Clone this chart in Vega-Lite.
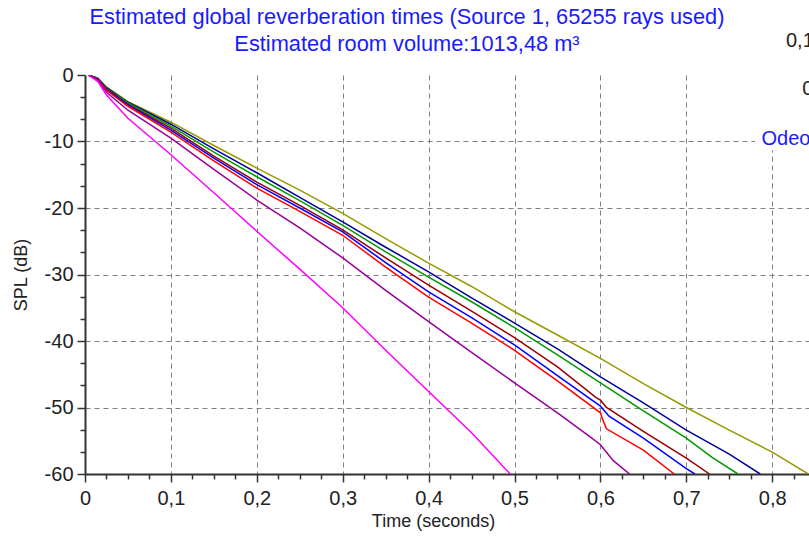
{
  "$schema": "https://vega.github.io/schema/vega-lite/v6.json",
  "width": 724,
  "height": 399,
  "autosize": {"type": "none"},
  "padding": {"left": 85, "top": 75, "right": 0, "bottom": 65},
  "background": "white",
  "config": {"view": {"stroke": null}, "font": "Liberation Sans"},
  "title": {
    "text": ["Estimated global reverberation times (Source 1, 65255 rays used)", "Estimated room volume:1013,48 m³"],
    "color": "#1a1aff",
    "font": "Liberation Sans",
    "fontSize": 21.8,
    "fontWeight": "normal",
    "lineHeight": 27,
    "anchor": "middle",
    "dx": -40,
    "offset": -25
  },
  "datasets": {
    "curves": [
      {"s": "olive", "t": 0.004, "db": 0}, {"s": "olive", "t": 0.015, "db": -0.5}, {"s": "olive", "t": 0.025, "db": -1.8}, {"s": "olive", "t": 0.05, "db": -4.0}, {"s": "olive", "t": 0.1, "db": -7.1}, {"s": "olive", "t": 0.15, "db": -10.6}, {"s": "olive", "t": 0.2, "db": -14.0}, {"s": "olive", "t": 0.25, "db": -17.3}, {"s": "olive", "t": 0.3, "db": -20.8}, {"s": "olive", "t": 0.35, "db": -24.6}, {"s": "olive", "t": 0.4, "db": -28.3}, {"s": "olive", "t": 0.45, "db": -31.8}, {"s": "olive", "t": 0.5, "db": -35.6}, {"s": "olive", "t": 0.55, "db": -39.1}, {"s": "olive", "t": 0.6, "db": -42.6}, {"s": "olive", "t": 0.65, "db": -46.4}, {"s": "olive", "t": 0.7, "db": -50.0}, {"s": "olive", "t": 0.75, "db": -53.4}, {"s": "olive", "t": 0.8, "db": -56.7}, {"s": "olive", "t": 0.842, "db": -60},
      {"s": "navy", "t": 0.004, "db": 0}, {"s": "navy", "t": 0.015, "db": -0.5}, {"s": "navy", "t": 0.025, "db": -1.9}, {"s": "navy", "t": 0.05, "db": -4.1}, {"s": "navy", "t": 0.1, "db": -7.4}, {"s": "navy", "t": 0.15, "db": -11.1}, {"s": "navy", "t": 0.2, "db": -14.7}, {"s": "navy", "t": 0.25, "db": -18.4}, {"s": "navy", "t": 0.3, "db": -22.1}, {"s": "navy", "t": 0.35, "db": -25.9}, {"s": "navy", "t": 0.4, "db": -29.6}, {"s": "navy", "t": 0.45, "db": -33.5}, {"s": "navy", "t": 0.5, "db": -37.3}, {"s": "navy", "t": 0.55, "db": -41.2}, {"s": "navy", "t": 0.6, "db": -45.4}, {"s": "navy", "t": 0.65, "db": -49.3}, {"s": "navy", "t": 0.7, "db": -53.4}, {"s": "navy", "t": 0.75, "db": -57.0}, {"s": "navy", "t": 0.786, "db": -60},
      {"s": "green", "t": 0.004, "db": 0}, {"s": "green", "t": 0.015, "db": -0.5}, {"s": "green", "t": 0.025, "db": -2.0}, {"s": "green", "t": 0.05, "db": -4.2}, {"s": "green", "t": 0.1, "db": -7.7}, {"s": "green", "t": 0.15, "db": -11.6}, {"s": "green", "t": 0.2, "db": -15.3}, {"s": "green", "t": 0.25, "db": -18.9}, {"s": "green", "t": 0.3, "db": -22.6}, {"s": "green", "t": 0.35, "db": -26.6}, {"s": "green", "t": 0.4, "db": -30.4}, {"s": "green", "t": 0.45, "db": -34.1}, {"s": "green", "t": 0.5, "db": -38.0}, {"s": "green", "t": 0.55, "db": -42.1}, {"s": "green", "t": 0.6, "db": -46.3}, {"s": "green", "t": 0.65, "db": -50.5}, {"s": "green", "t": 0.7, "db": -54.6}, {"s": "green", "t": 0.73, "db": -57.5}, {"s": "green", "t": 0.76, "db": -60},
      {"s": "brown", "t": 0.004, "db": 0}, {"s": "brown", "t": 0.015, "db": -0.6}, {"s": "brown", "t": 0.025, "db": -2.1}, {"s": "brown", "t": 0.05, "db": -4.4}, {"s": "brown", "t": 0.1, "db": -8.0}, {"s": "brown", "t": 0.15, "db": -12.2}, {"s": "brown", "t": 0.2, "db": -16.1}, {"s": "brown", "t": 0.25, "db": -19.6}, {"s": "brown", "t": 0.3, "db": -23.3}, {"s": "brown", "t": 0.35, "db": -27.5}, {"s": "brown", "t": 0.4, "db": -31.6}, {"s": "brown", "t": 0.45, "db": -35.5}, {"s": "brown", "t": 0.5, "db": -39.5}, {"s": "brown", "t": 0.55, "db": -43.9}, {"s": "brown", "t": 0.595, "db": -48.5}, {"s": "brown", "t": 0.6, "db": -48.9}, {"s": "brown", "t": 0.607, "db": -50.0}, {"s": "brown", "t": 0.65, "db": -53.6}, {"s": "brown", "t": 0.7, "db": -57.6}, {"s": "brown", "t": 0.727, "db": -60},
      {"s": "blue", "t": 0.004, "db": 0}, {"s": "blue", "t": 0.015, "db": -0.6}, {"s": "blue", "t": 0.025, "db": -2.2}, {"s": "blue", "t": 0.05, "db": -4.5}, {"s": "blue", "t": 0.1, "db": -8.3}, {"s": "blue", "t": 0.15, "db": -12.5}, {"s": "blue", "t": 0.2, "db": -16.5}, {"s": "blue", "t": 0.25, "db": -20.0}, {"s": "blue", "t": 0.3, "db": -23.6}, {"s": "blue", "t": 0.35, "db": -28.2}, {"s": "blue", "t": 0.4, "db": -32.6}, {"s": "blue", "t": 0.45, "db": -36.5}, {"s": "blue", "t": 0.5, "db": -40.6}, {"s": "blue", "t": 0.55, "db": -45.2}, {"s": "blue", "t": 0.6, "db": -49.8}, {"s": "blue", "t": 0.61, "db": -51.3}, {"s": "blue", "t": 0.65, "db": -54.6}, {"s": "blue", "t": 0.7, "db": -59.2}, {"s": "blue", "t": 0.71, "db": -60},
      {"s": "red", "t": 0.004, "db": 0}, {"s": "red", "t": 0.015, "db": -0.7}, {"s": "red", "t": 0.025, "db": -2.3}, {"s": "red", "t": 0.05, "db": -4.7}, {"s": "red", "t": 0.1, "db": -8.6}, {"s": "red", "t": 0.15, "db": -12.9}, {"s": "red", "t": 0.2, "db": -17.0}, {"s": "red", "t": 0.25, "db": -20.5}, {"s": "red", "t": 0.3, "db": -24.1}, {"s": "red", "t": 0.35, "db": -28.9}, {"s": "red", "t": 0.4, "db": -33.4}, {"s": "red", "t": 0.45, "db": -37.3}, {"s": "red", "t": 0.5, "db": -41.4}, {"s": "red", "t": 0.55, "db": -46.0}, {"s": "red", "t": 0.6, "db": -50.8}, {"s": "red", "t": 0.602, "db": -51.6}, {"s": "red", "t": 0.607, "db": -53.2}, {"s": "red", "t": 0.65, "db": -56.4}, {"s": "red", "t": 0.686, "db": -60},
      {"s": "purple", "t": 0.004, "db": 0}, {"s": "purple", "t": 0.015, "db": -0.8}, {"s": "purple", "t": 0.025, "db": -2.6}, {"s": "purple", "t": 0.05, "db": -5.3}, {"s": "purple", "t": 0.1, "db": -9.5}, {"s": "purple", "t": 0.15, "db": -14.2}, {"s": "purple", "t": 0.2, "db": -18.8}, {"s": "purple", "t": 0.25, "db": -23.0}, {"s": "purple", "t": 0.3, "db": -27.5}, {"s": "purple", "t": 0.35, "db": -32.4}, {"s": "purple", "t": 0.4, "db": -37.1}, {"s": "purple", "t": 0.45, "db": -41.7}, {"s": "purple", "t": 0.5, "db": -46.3}, {"s": "purple", "t": 0.55, "db": -50.8}, {"s": "purple", "t": 0.59, "db": -54.6}, {"s": "purple", "t": 0.6, "db": -55.6}, {"s": "purple", "t": 0.615, "db": -58.0}, {"s": "purple", "t": 0.634, "db": -60},
      {"s": "magenta", "t": 0.004, "db": 0}, {"s": "magenta", "t": 0.015, "db": -1.0}, {"s": "magenta", "t": 0.025, "db": -3.0}, {"s": "magenta", "t": 0.05, "db": -6.5}, {"s": "magenta", "t": 0.1, "db": -12.0}, {"s": "magenta", "t": 0.15, "db": -17.7}, {"s": "magenta", "t": 0.2, "db": -23.5}, {"s": "magenta", "t": 0.25, "db": -29.2}, {"s": "magenta", "t": 0.3, "db": -35.0}, {"s": "magenta", "t": 0.35, "db": -41.4}, {"s": "magenta", "t": 0.4, "db": -47.6}, {"s": "magenta", "t": 0.45, "db": -53.8}, {"s": "magenta", "t": 0.495, "db": -60}
    ],
    "box": [{"t1": 0.78, "t2": 0.9, "d1": -11.3, "d2": 0}],
    "notes": [
      {"label": "Odeo", "t": 0.7875, "db": -9.6, "kind": "legend"},
      {"label": "0,1", "t": 0.816, "db": 5.1, "kind": "value"},
      {"label": "0", "t": 0.835, "db": -2.1, "kind": "value"}
    ]
  },
  "layer": [
    {
      "data": {"name": "curves"},
      "mark": {"type": "line", "strokeWidth": 1.5, "clip": true},
      "encoding": {
        "x": {
          "field": "t", "type": "quantitative",
          "scale": {"domain": [0, 0.8428], "nice": false, "zero": false},
          "title": "Time (seconds)",
          "axis": {
            "values": [0, 0.025, 0.05, 0.075, 0.1, 0.125, 0.15, 0.175, 0.2, 0.225, 0.25, 0.275, 0.3, 0.325, 0.35, 0.375, 0.4, 0.425, 0.45, 0.475, 0.5, 0.525, 0.55, 0.575, 0.6, 0.625, 0.65, 0.675, 0.7, 0.725, 0.75, 0.775, 0.8, 0.825],
            "tickCount": 200,
            "labelExpr": "abs(datum.value*10 - round(datum.value*10)) < 0.001 ? (datum.value == 0 ? '0' : replace(format(datum.value, '.1f'), '.', ',')) : ''",
            "grid": true,
            "gridColor": "#808080",
            "gridDash": [5, 4],
            "gridWidth": 1,
            "gridOpacity": {"condition": {"test": "abs(datum.value*10 - round(datum.value*10)) < 0.001 && datum.value > 0", "value": 1}, "value": 0},
            "tickSize": {"condition": {"test": "abs(datum.value*10 - round(datum.value*10)) < 0.001", "value": 8}, "value": 5},
            "tickColor": "#333333",
            "tickWidth": 1.5,
            "domainColor": "#333333",
            "domainWidth": 2,
            "labelFont": "Liberation Sans",
            "labelFontSize": 20,
            "labelColor": "#222222",
            "labelPadding": 6,
            "labelFlush": false,
            "labelOverlap": false,
            "labelBound": false,
            "titleFont": "Liberation Sans",
            "titleFontSize": 18,
            "titleFontWeight": "normal",
            "titleColor": "#222222",
            "titleX": 348,
            "titlePadding": 4
          }
        },
        "y": {
          "field": "db", "type": "quantitative",
          "scale": {"domain": [-60, 0], "nice": false, "zero": false},
          "title": "SPL (dB)",
          "axis": {
            "values": [0, -3.3333, -6.6667, -10, -13.3333, -16.6667, -20, -23.3333, -26.6667, -30, -33.3333, -36.6667, -40, -43.3333, -46.6667, -50, -53.3333, -56.6667, -60],
            "tickCount": 200,
            "labelExpr": "abs(datum.value/10 - round(datum.value/10)) < 0.001 ? toString(round(datum.value)) : ''",
            "grid": true,
            "gridColor": "#808080",
            "gridDash": [5, 4],
            "gridWidth": 1,
            "gridOpacity": {"condition": {"test": "abs(datum.value/10 - round(datum.value/10)) < 0.001 && datum.value < 0 && datum.value > -60", "value": 1}, "value": 0},
            "tickSize": {"condition": {"test": "abs(datum.value/10 - round(datum.value/10)) < 0.001", "value": 8}, "value": 5},
            "tickColor": "#333333",
            "tickWidth": 1.5,
            "domainColor": "#333333",
            "domainWidth": 2,
            "labelFont": "Liberation Sans",
            "labelFontSize": 20,
            "labelColor": "#222222",
            "labelPadding": 4,
            "labelOverlap": false,
            "labelBound": false,
            "labelFlush": false,
            "titleFont": "Liberation Sans",
            "titleFontSize": 18,
            "titleFontWeight": "normal",
            "titleColor": "#222222",
            "titlePadding": 14
          }
        },
        "color": {
          "field": "s", "type": "nominal",
          "scale": {
            "domain": ["olive", "navy", "green", "brown", "blue", "red", "purple", "magenta"],
            "range": ["#999900", "#000099", "#009900", "#990000", "#0000ff", "#ff0000", "#990099", "#ff00ff"]
          },
          "legend": null
        }
      }
    },
    {
      "data": {"name": "box"},
      "mark": {"type": "rect", "fill": "white", "stroke": null},
      "encoding": {
        "x": {"field": "t1", "type": "quantitative"},
        "x2": {"field": "t2"},
        "y": {"field": "d1", "type": "quantitative"},
        "y2": {"field": "d2"}
      }
    },
    {
      "data": {"name": "notes"},
      "mark": {"type": "text", "align": "left", "baseline": "middle", "font": "Liberation Sans", "fontSize": 20},
      "encoding": {
        "x": {"field": "t", "type": "quantitative"},
        "y": {"field": "db", "type": "quantitative"},
        "text": {"field": "label"},
        "color": {"condition": {"test": "datum.kind == 'legend'", "value": "#1a1aff"}, "value": "#222222"}
      }
    }
  ]
}
